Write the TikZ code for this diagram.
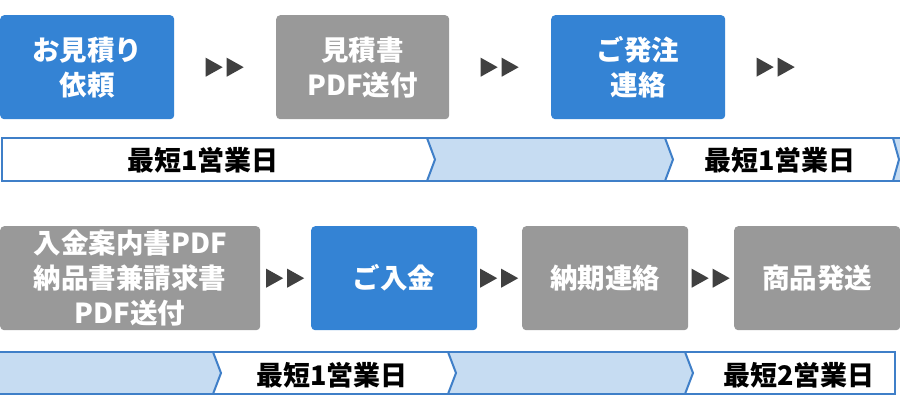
\documentclass[tikz,border=0pt]{standalone}
\usepackage{fontspec}
\newfontfamily\jp{Noto Sans CJK JP}
\usetikzlibrary{calc}
\definecolor{boxblue}{HTML}{3483D4}
\definecolor{boxgray}{HTML}{999999}
\definecolor{lightblue}{HTML}{C6DCF2}
\definecolor{lineblue}{HTML}{3F7FC8}
\definecolor{arrowgray}{HTML}{404040}
\tikzset{
  stepbox/.style={rounded corners=4pt, minimum height=104pt, inner sep=0pt,
    font=\jp\bfseries\fontsize{27.5}{35}\selectfont, text=white, align=center, anchor=north west},
  bluebox/.style={stepbox, fill=boxblue},
  graybox/.style={stepbox, fill=boxgray},
  barlabel/.style={font=\jp\bfseries\fontsize{27}{32}\selectfont, text=black, inner sep=0pt},
  barline/.style={draw=lineblue, line width=2pt, line join=miter},
  dbl/.pic={
    \fill[arrowgray] (-19.5,-9.5) -- (-2.5,0) -- (-19.5,9.5) -- cycle;
    \fill[arrowgray] (1.5,-9.5) -- (18.5,0) -- (1.5,9.5) -- cycle;
  }
}
\begin{document}
\begin{tikzpicture}[x=1pt,y=-1pt]
\useasboundingbox (0,0) rectangle (900,400);
\clip (0,0) rectangle (900,400);
\fill[white] (0,0) rectangle (900,400);

% ---------- row 1 boxes
\node[bluebox, minimum width=174pt] (b1) at (0,15) {お見積り\\依頼};
\node[graybox, minimum width=173pt] (b2) at (276,15) {見積書\\PDF送付};
\node[bluebox, minimum width=174pt] (b3) at (551,15) {ご発注\\連絡};
\coordinate (e3) at (827,67);
\path ($(b1.east)!0.5!(b2.west)$) pic {dbl};
\path ($(b2.east)!0.5!(b3.west)$) pic {dbl};
\path ($(b3.east)!0.5!(e3)$) pic {dbl};

% ---------- row 1 bar
\fill[white] (2,138) -- (427,138) -- (435,159.5) -- (427,181) -- (2,181) -- cycle;
\fill[lightblue] (427,138) -- (665,138) -- (673,159.5) -- (665,181) -- (427,181) -- (435,159.5) -- cycle;
\fill[white] (665,138) -- (893,138) -- (899,159.5) -- (893,181) -- (665,181) -- (673,159.5) -- cycle;
\fill[lightblue] (893,138) -- (905,138) -- (905,181) -- (893,181) -- (899,159.5) -- cycle;
\draw[barline] (905,138) -- (2,138) -- (2,181) -- (905,181);
\draw[barline] (427,138) -- (435,159.5) -- (427,181);
\draw[barline] (665,138) -- (673,159.5) -- (665,181);
\draw[barline] (893,138) -- (899,159.5) -- (893,181);
\node[barlabel] (l1) at (203,160.5) {最短1営業日};
\node[barlabel] (l2) at (780,160.5) {最短1営業日};

% ---------- row 2 boxes
\node[graybox, minimum width=260pt] (c1) at (0,226) {入金案内書PDF\\納品書兼請求書\\PDF送付};
\node[bluebox, minimum width=166pt] (c2) at (311,226) {ご入金};
\node[graybox, minimum width=166pt] (c3) at (522,226) {納期連絡};
\node[graybox, minimum width=166pt] (c4) at (734,226) {商品発送};
\path ($(c1.east)!0.5!(c2.west)$) pic {dbl};
\path ($(c2.east)!0.5!(c3.west)$) pic {dbl};
\path ($(c3.east)!0.5!(c4.west)$) pic {dbl};

% ---------- row 2 bar
\fill[lightblue] (-5,352) -- (213,352) -- (221,373) -- (213,394) -- (-5,394) -- cycle;
\fill[white] (213,352) -- (448,352) -- (456,373) -- (448,394) -- (213,394) -- (221,373) -- cycle;
\fill[lightblue] (448,352) -- (685,352) -- (693,373) -- (685,394) -- (448,394) -- (456,373) -- cycle;
\fill[white] (685,352) -- (895,352) -- (895,394) -- (685,394) -- (693,373) -- cycle;
\draw[barline] (-5,352) -- (895,352) -- (895,394) -- (-5,394);
\draw[barline] (213,352) -- (221,373) -- (213,394);
\draw[barline] (448,352) -- (456,373) -- (448,394);
\draw[barline] (685,352) -- (693,373) -- (685,394);
\node[barlabel] (l3) at (332,375.5) {最短1営業日};
\node[barlabel] (l4) at (799,375.5) {最短2営業日};
\end{tikzpicture}
\end{document}
